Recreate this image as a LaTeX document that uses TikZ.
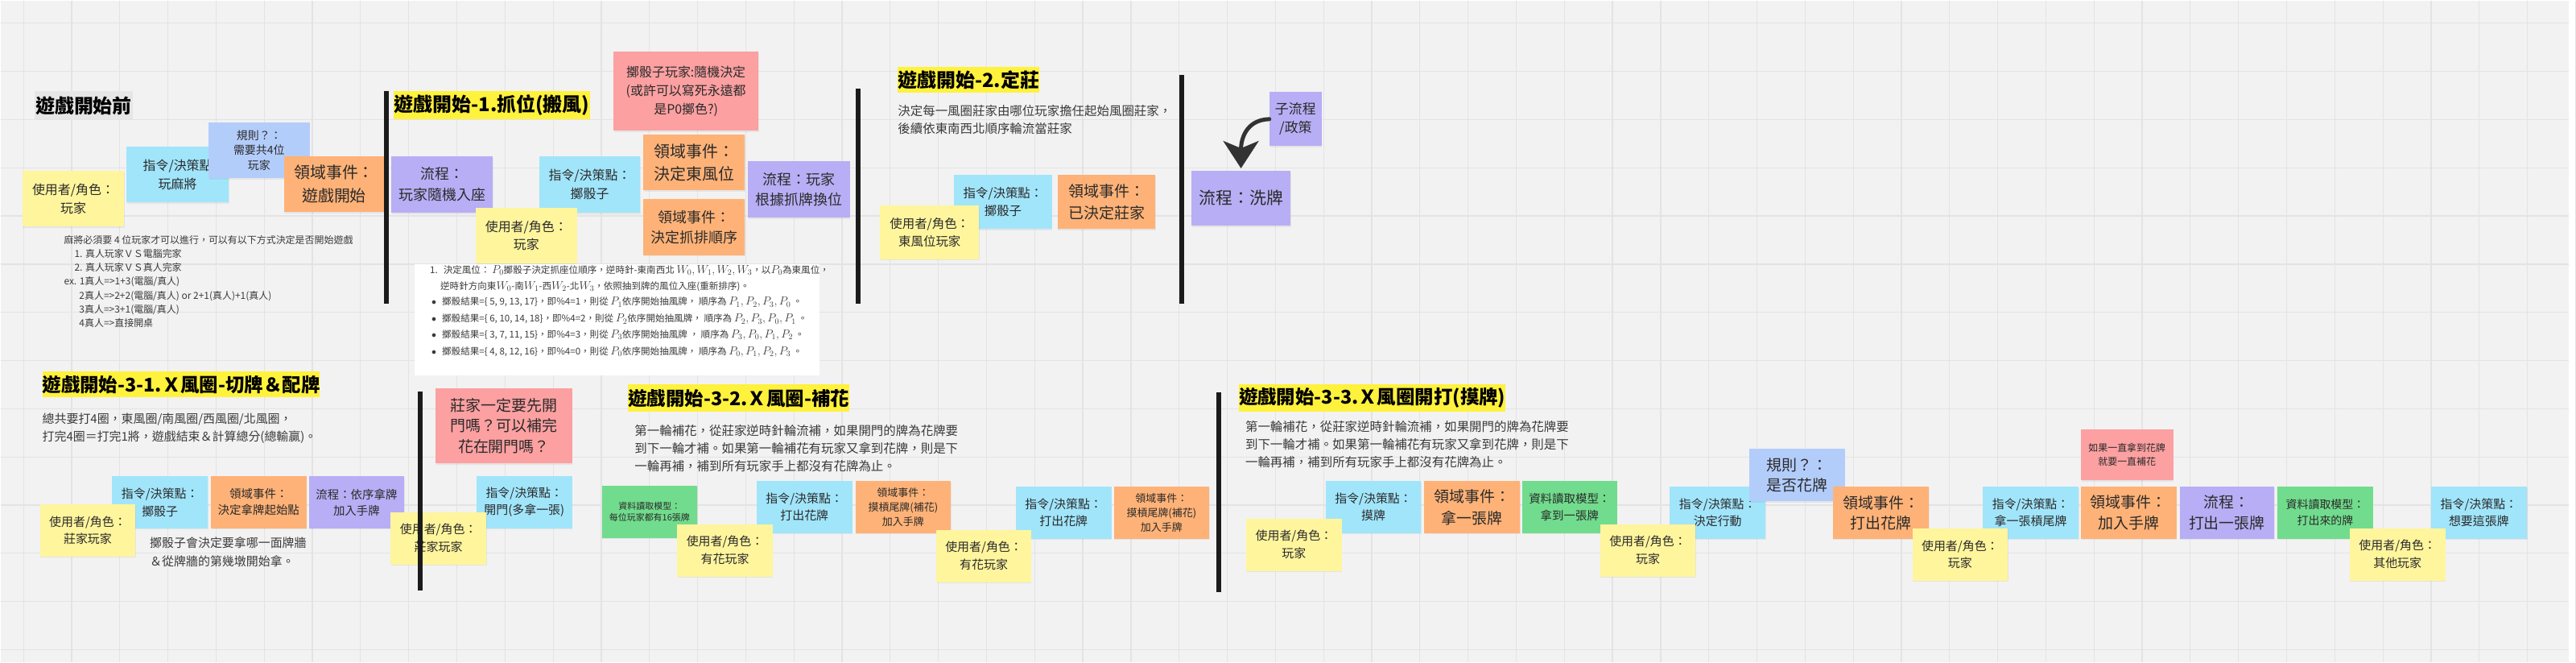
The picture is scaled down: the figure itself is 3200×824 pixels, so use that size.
\documentclass[tikz,border=0pt]{standalone}
\usepackage{fontspec}
\setmainfont{Noto Sans CJK TC}
\usetikzlibrary{arrows.meta,shadows}
\definecolor{bgc}{HTML}{F2F2F2}
\definecolor{gridc}{HTML}{E3E3E3}
\definecolor{ink}{HTML}{2A2A2A}
\definecolor{txt}{HTML}{3A3A3A}
\definecolor{cyel}{HTML}{FFF59D}
\definecolor{ccya}{HTML}{A1E5FB}
\definecolor{cblu}{HTML}{B3CDFB}
\definecolor{cora}{HTML}{FEB277}
\definecolor{cpur}{HTML}{B8AEF5}
\definecolor{cpin}{HTML}{FCA0A1}
\definecolor{cgre}{HTML}{71DC8D}
\definecolor{tyel}{HTML}{FFF23C}
\definecolor{tgray}{HTML}{E6E6E6}
\definecolor{barc}{HTML}{1B1B1B}
\definecolor{arrc}{HTML}{333333}
\newcommand\fs[2]{\fontsize{#1}{#2}\selectfont}
\newcommand\mq[1]{{\fontsize{14.8}{15}\selectfont$#1$}}
\begin{document}
\begin{tikzpicture}[x=1pt,y=-1pt,
  stk/.style={rectangle, anchor=north west, inner sep=2pt, align=center, text=ink,
    drop shadow={shadow xshift=0.6pt, shadow yshift=-1.6pt, opacity=0.12}},
  ttl/.style={rectangle, anchor=north west, inner sep=0pt, text=black, font=\bfseries\fs{24}{28}},
  ttlb/.style={ttl, font=\bfseries\fs{23.5}{28}},
  para/.style={anchor=north west, inner sep=0pt, align=left, text=txt},
  wtxt/.style={anchor=west, inner sep=0pt, text=txt, font=\fs{11.6}{13}},
  sepbar/.style={line width=6pt, draw=barc},
  bigarrow/.style={line width=5pt, draw=arrc, line cap=round,
    -{Stealth[length=34pt, width=44pt, inset=9pt, fill=arrc]}}
]
% background and grid
\fill[bgc] (0,0) rectangle (3200,824);
\foreach \i in {0,...,53} \draw[gridc, line width=1.2pt] ({28.6+60*\i},0) -- ({28.6+60*\i},824);
\foreach \j in {0,...,13} \draw[gridc, line width=1.2pt] (0,{28.3+60*\j}) -- (3200,{28.3+60*\j});

% ---------- titles ----------
\node[ttl, fill=tgray, minimum width=123pt, minimum height=35pt] (t0) at (42,113) {遊戲開始前};
\node[ttl, fill=tyel, minimum width=244pt, minimum height=35pt] (t1) at (490,113) {遊戲開始-1.抓位(搬風)};
\node[ttl, fill=tyel, minimum width=173pt, minimum height=33pt] (t2) at (1118,82) {遊戲開始-2.定莊};
\node[ttlb, fill=tyel, minimum width=335pt, minimum height=32pt] (t31) at (52,462) {遊戲開始-3-1.Ｘ風圈-切牌＆配牌};
\node[ttlb, fill=tyel, minimum width=265pt, minimum height=34pt] (t32) at (782,478) {遊戲開始-3-2.Ｘ風圈-補花};
\node[ttlb, fill=tyel, minimum width=320pt, minimum height=34pt] (t33) at (1543,478) {遊戲開始-3-3.Ｘ風圈開打(摸牌)};

% ---------- paragraphs ----------
\node[para, font=\fs{12}{17.3}] (p0) at (79,292) {麻將必須要 4 位玩家才可以進行，可以有以下方式決定是否開始遊戲\\
\hspace*{13pt}1. 真人玩家ＶＳ電腦完家\\
\hspace*{13pt}2. 真人玩家ＶＳ真人完家\\
ex. 1真人=>1+3(電腦/真人)\\
\hspace*{19pt}2真人=>2+2(電腦/真人) or 2+1(真人)+1(真人)\\
\hspace*{19pt}3真人=>3+1(電腦/真人)\\
\hspace*{19pt}4真人=>直接開桌};

\node[para, font=\fs{15.5}{22}] (pd) at (1118,130) {決定每一風圈莊家由哪位玩家擔任起始風圈莊家，\\後續依東南西北順序輪流當莊家};

\node[para, font=\fs{15}{22}] (p31) at (52,514) {總共要打4圈，東風圈/南風圈/西風圈/北風圈，\\打完4圈＝打完1將，遊戲結束＆計算總分(總輸贏)。};
\node[para, font=\fs{15}{23}] (p31b) at (186,668) {擲骰子會決定要拿哪一面牌牆\\＆從牌牆的第幾墩開始拿。};
\node[para, font=\fs{15.5}{22}] (p32) at (790,528) {第一輪補花，從莊家逆時針輪流補，如果開門的牌為花牌要\\到下一輪才補。如果第一輪補花有玩家又拿到花牌，則是下\\一輪再補，補到所有玩家手上都沒有花牌為止。};
\node[para, font=\fs{15.5}{22}] (p33) at (1551,523) {第一輪補花，從莊家逆時針輪流補，如果開門的牌為花牌要\\到下一輪才補。如果第一輪補花有玩家又拿到花牌，則是下\\一輪再補，補到所有玩家手上都沒有花牌為止。};

% ---------- white formula box ----------
\node[rectangle, anchor=north west, fill=white, minimum width=504pt, minimum height=139pt, inner sep=0pt] (wbox) at (516,328) {};
\node[wtxt] (w1) at (535,336) {1.\hspace{7pt}決定風位： \mq{P_0}擲骰子決定抓座位順序，逆時針-東南西北 \mq{W_0, W_1, W_2, W_3}，以\mq{P_0}為東風位，};
\node[wtxt] (w2) at (548,356) {逆時針方向東\mq{W_0}-南\mq{W_1}-西\mq{W_2}-北\mq{W_3}，依照抽到牌的風位入座(重新排序)。};
\node[wtxt] (w3) at (537,376) {$\bullet$\hspace{7pt}擲骰結果=\{ 5, 9, 13, 17\}，即\%4=1，則從 \mq{P_1}依序開始抽風牌， 順序為 \mq{P_1, P_2, P_3, P_0} 。};
\node[wtxt] (w4) at (537,397) {$\bullet$\hspace{7pt}擲骰結果=\{ 6, 10, 14, 18\}，即\%4=2，則從 \mq{P_2}依序開始抽風牌， 順序為 \mq{P_2, P_3, P_0, P_1} 。};
\node[wtxt] (w5) at (537,417) {$\bullet$\hspace{7pt}擲骰結果=\{ 3, 7, 11, 15\}，即\%4=3，則從 \mq{P_3}依序開始抽風牌 ， 順序為 \mq{P_3, P_0, P_1, P_2} 。};
\node[wtxt] (w6) at (537,438) {$\bullet$\hspace{7pt}擲骰結果=\{ 4, 8, 12, 16\}，即\%4=0，則從 \mq{P_0}依序開始抽風牌， 順序為 \mq{P_0, P_1, P_2, P_3} 。};

% ---------- top row stickies ----------
\node[stk, fill=cyel, minimum width=127pt, minimum height=69pt, font=\fs{16}{23}] (u1) at (27,212) {使用者/角色：\\玩家};
\node[stk, fill=ccya, minimum width=127pt, minimum height=69pt, font=\fs{16}{23}] (c1) at (157,182) {指令/決策點\\玩麻將};
\node[stk, fill=cblu, minimum width=126pt, minimum height=69pt, font=\fs{14}{19}] (r1) at (259,152) {規則？：\\需要共4位\\玩家};
\node[stk, fill=cora, minimum width=125pt, minimum height=69pt, font=\fs{20}{29}] (e1) at (353,194) {領域事件：\\遊戲開始};

\node[stk, fill=cpur, minimum width=126pt, minimum height=70pt, font=\fs{18}{26}] (f1) at (487,194) {流程：\\玩家隨機入座};
\node[stk, fill=ccya, minimum width=126pt, minimum height=70pt, font=\fs{16}{23}] (c2) at (671,194) {指令/決策點：\\擲骰子};
\node[stk, fill=cyel, minimum width=126pt, minimum height=69pt, font=\fs{16}{23}] (u2) at (592,258) {使用者/角色：\\玩家};
\node[stk, fill=cpin, minimum width=180pt, minimum height=99pt, font=\fs{16}{23}] (p1) at (764,63) {擲骰子玩家:隨機決定\\(或許可以寫死永遠都\\是P0擲色?)};
\node[stk, fill=cora, minimum width=126pt, minimum height=69pt, font=\fs{20}{28}] (e2) at (801,167) {領域事件：\\決定東風位};
\node[stk, fill=cora, minimum width=126pt, minimum height=70pt, font=\fs{18}{25}] (e3) at (801,247) {領域事件：\\決定抓排順序};
\node[stk, fill=cpur, minimum width=127pt, minimum height=70pt, font=\fs{18}{25}] (f2) at (931,200) {流程：玩家\\根據抓牌換位};

\node[stk, fill=ccya, minimum width=122pt, minimum height=67pt, font=\fs{15.5}{22}] (c3) at (1188,217) {指令/決策點：\\擲骰子};
\node[stk, fill=cyel, minimum width=123pt, minimum height=67pt, font=\fs{15.5}{22}] (u3) at (1096,255) {使用者/角色：\\東風位玩家};
\node[stk, fill=cora, minimum width=122pt, minimum height=67pt, font=\fs{19}{27}] (e4) at (1317,217) {領域事件：\\已決定莊家};

\node[stk, fill=cpur, minimum width=123pt, minimum height=68pt, font=\fs{21}{28}] (shuf) at (1484,212) {流程：洗牌};
\node[stk, fill=cpur, minimum width=65pt, minimum height=67pt, font=\fs{17}{23}] (sub) at (1581,114) {子流程\\/政策};
\draw[bigarrow, shorten >=3pt] (sub.west) .. controls +(-30,1) and +(0,-38) .. (shuf.north);

% ---------- bottom row stickies ----------
\node[stk, fill=ccya, minimum width=119pt, minimum height=65pt, font=\fs{15}{22}] (c4) at (139,592) {指令/決策點：\\擲骰子};
\node[stk, fill=cyel, minimum width=119pt, minimum height=65pt, font=\fs{15}{22}] (u4) at (49,627) {使用者/角色：\\莊家玩家};
\node[stk, fill=cora, minimum width=119pt, minimum height=65pt, font=\fs{14.5}{20}] (e5) at (262,592) {領域事件：\\決定拿牌起始點};
\node[stk, fill=cpur, minimum width=119pt, minimum height=65pt, font=\fs{14.5}{20}] (f4) at (384,592) {流程：依序拿牌\\加入手牌};

\node[stk, fill=cpin, minimum width=170pt, minimum height=93pt, font=\fs{19}{26}] (p2) at (542,483) {莊家一定要先開\\門嗎？可以補完\\花在開門嗎？};
\node[stk, fill=ccya, minimum width=119pt, minimum height=65pt, font=\fs{15}{21}] (c5) at (593,592) {指令/決策點：\\開門(多拿一張)};
\node[stk, fill=cyel, minimum width=119pt, minimum height=65pt, font=\fs{15}{22}] (u5) at (486,637) {使用者/角色：\\莊家玩家};

\node[stk, fill=cgre, minimum width=119pt, minimum height=65pt, font=\fs{11}{15}] (g1) at (749,604) {資料讀取模型：\\每位玩家都有16張牌};
\node[stk, fill=ccya, minimum width=119pt, minimum height=65pt, font=\fs{15}{21}] (c6) at (942,598) {指令/決策點：\\打出花牌};
\node[stk, fill=cyel, minimum width=119pt, minimum height=65pt, font=\fs{15}{22}] (u6) at (843,652) {使用者/角色：\\有花玩家};
\node[stk, fill=cora, minimum width=119pt, minimum height=65pt, font=\fs{13}{18}] (e6) at (1065,598) {領域事件：\\摸槓尾牌(補花)\\加入手牌};
\node[stk, fill=ccya, minimum width=119pt, minimum height=65pt, font=\fs{15}{21}] (c7) at (1265,605) {指令/決策點：\\打出花牌};
\node[stk, fill=cyel, minimum width=118pt, minimum height=65pt, font=\fs{15}{22}] (u7) at (1166,659) {使用者/角色：\\有花玩家};
\node[stk, fill=cora, minimum width=119pt, minimum height=65pt, font=\fs{13}{18}] (e7) at (1387,605) {領域事件：\\摸槓尾牌(補花)\\加入手牌};

\node[stk, fill=ccya, minimum width=119pt, minimum height=65pt, font=\fs{15}{21}] (c8) at (1651,598) {指令/決策點：\\摸牌};
\node[stk, fill=cyel, minimum width=119pt, minimum height=65pt, font=\fs{15}{22}] (u8) at (1552,645) {使用者/角色：\\玩家};
\node[stk, fill=cora, minimum width=119pt, minimum height=65pt, font=\fs{19}{27}] (e8) at (1774,598) {領域事件：\\拿一張牌};
\node[stk, fill=cgre, minimum width=118pt, minimum height=65pt, font=\fs{14.5}{21}] (g2) at (1896,598) {資料讀取模型：\\拿到一張牌};
\node[stk, fill=ccya, minimum width=119pt, minimum height=65pt, font=\fs{15}{21}] (c9) at (2080,605) {指令/決策點：\\決定行動};
\node[stk, fill=cyel, minimum width=119pt, minimum height=65pt, font=\fs{15}{22}] (u9) at (1993,652) {使用者/角色：\\玩家};
\node[stk, fill=cblu, minimum width=119pt, minimum height=65pt, font=\fs{19}{25}] (r2) at (2179,558) {規則？：\\是否花牌};
\node[stk, fill=cora, minimum width=120pt, minimum height=65pt, font=\fs{19}{25}] (e9) at (2283,605) {領域事件：\\打出花牌};
\node[stk, fill=ccya, minimum width=119pt, minimum height=65pt, font=\fs{15}{21}] (c10) at (2470,605) {指令/決策點：\\拿一張槓尾牌};
\node[stk, fill=cyel, minimum width=119pt, minimum height=65pt, font=\fs{15}{21}] (u10) at (2382,657) {使用者/角色：\\玩家};
\node[stk, fill=cpin, minimum width=115pt, minimum height=63pt, font=\fs{12}{17}] (p3) at (2592,534) {如果一直拿到花牌\\就要一直補花};
\node[stk, fill=cora, minimum width=119pt, minimum height=65pt, font=\fs{19}{26}] (e10) at (2592,605) {領域事件：\\加入手牌};
\node[stk, fill=cpur, minimum width=118pt, minimum height=65pt, font=\fs{19}{26}] (f5) at (2715,605) {流程：\\打出一張牌};
\node[stk, fill=cgre, minimum width=119pt, minimum height=65pt, font=\fs{14}{20}] (g3) at (2837,605) {資料讀取模型：\\打出來的牌};
\node[stk, fill=ccya, minimum width=120pt, minimum height=65pt, font=\fs{15}{21}] (c11) at (3028,605) {指令/決策點：\\想要這張牌};
\node[stk, fill=cyel, minimum width=119pt, minimum height=65pt, font=\fs{15}{22}] (u11) at (2927,657) {使用者/角色：\\其他玩家};

% ---------- separator bars ----------
\draw[sepbar] (481,113) -- (481,378);
\draw[sepbar] (1068.5,110) -- (1068.5,378);
\draw[sepbar] (1472,93) -- (1472,378);
\draw[sepbar] (522.5,487) -- (522.5,735);
\draw[sepbar] (1518,488) -- (1518,737);
\end{tikzpicture}
\end{document}
